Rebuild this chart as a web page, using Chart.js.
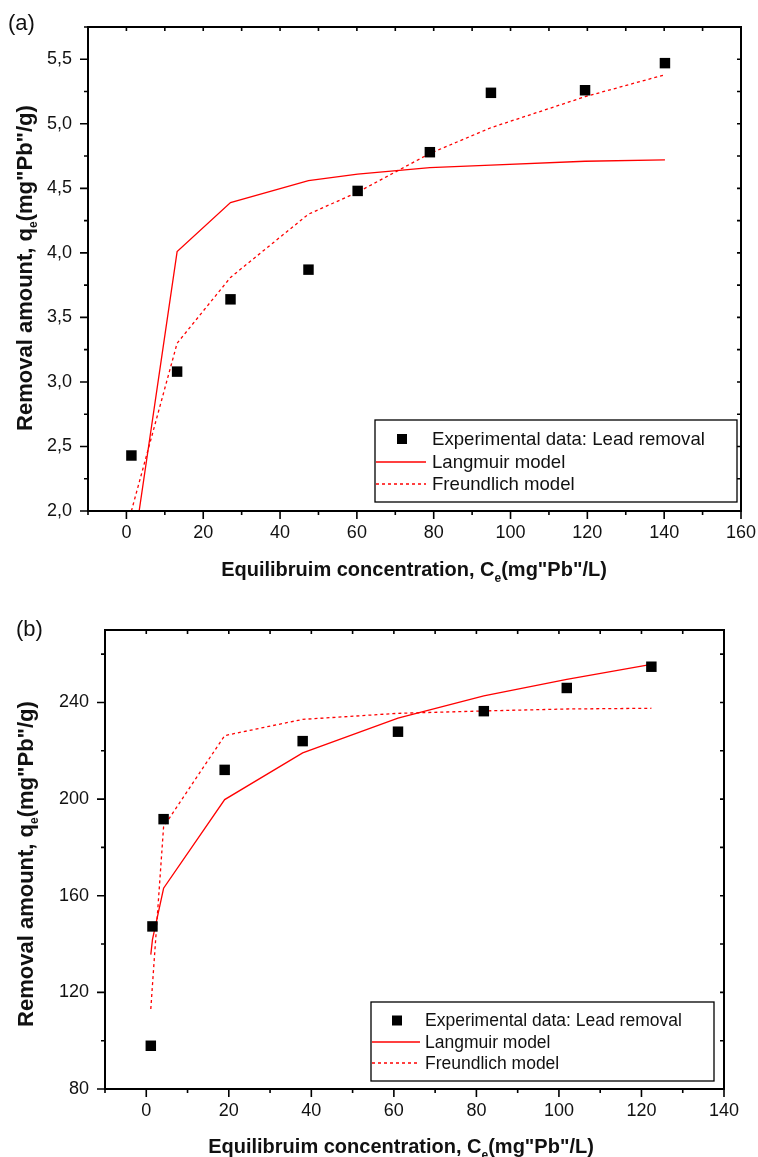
<!DOCTYPE html>
<html>
<head>
<meta charset="utf-8">
<script src="https://cdn.jsdelivr.net/npm/chart.js@4.4.1/dist/chart.umd.min.js"></script>
<style>
  body { margin: 0; background: #fff; }
  #contenedor { position: relative; width: 758px; height: 1157px; }
  canvas { position: absolute; left: 0; }
</style>
</head>
<body>
<div id="contenedor">
  <canvas id="graficoA" width="758" height="590" style="top:0"></canvas>
  <canvas id="graficoB" width="758" height="567" style="top:590px"></canvas>
</div>
<script>
// --- Datos (a) ---
const ceA = [1.3, 13.2, 27.1, 47.4, 60.2, 79.0, 94.9, 119.4, 140.2];
const qeA = [2.43, 3.08, 3.64, 3.87, 4.48, 4.78, 5.24, 5.26, 5.47];
const langmuirA = [1.59, 4.01, 4.39, 4.56, 4.61, 4.66, 4.68, 4.71, 4.72];
const freundlichA = [2.0, 3.30, 3.81, 4.30, 4.47, 4.77, 4.97, 5.21, 5.38];
const xTicksA = [0, 20, 40, 60, 80, 100, 120, 140, 160];
const yTicksA = [2.0, 2.5, 3.0, 3.5, 4.0, 4.5, 5.0, 5.5];

// --- Datos (b) ---
const ceB = [1.1, 1.5, 4.2, 19.0, 37.9, 61.0, 81.8, 101.9, 122.4];
const qeB = [97.9, 147.3, 191.7, 212.1, 224.0, 227.9, 236.4, 246.0, 254.8];
const langmuirB = [135.6, 141.8, 163.1, 199.8, 219.1, 233.5, 242.7, 249.6, 255.8];
const freundlichB = [113.1, 123.0, 188.6, 226.3, 233.0, 235.5, 236.5, 237.3, 237.6];
const xTicksB = [0, 20, 40, 60, 80, 100, 120, 140];
const yTicksB = [80, 120, 160, 200, 240];

const etiquetas = ["Experimental data: Lead removal", "Langmuir model", "Freundlich model"];

const FUENTE = "'Liberation Sans', Arial, sans-serif";

function puntos(xs, ys) {
    return xs.map((x, i) => ({ x: x, y: ys[i] }));
}

function textoConSubindice(ctx, partes, x, y, tam, subTam, bajada) {
    // partes: [texto, esSubindice]
    let ancho = 0;
    partes.forEach(p => {
        ctx.font = `bold ${p[1] ? subTam : tam}px ${FUENTE}`;
        ancho += ctx.measureText(p[0]).width;
    });
    let cx = x - ancho / 2;
    partes.forEach(p => {
        ctx.font = `bold ${p[1] ? subTam : tam}px ${FUENTE}`;
        ctx.fillText(p[0], cx, p[1] ? y + bajada : y);
        cx += ctx.measureText(p[0]).width;
    });
}

const marcoPlugin = {
    id: "marco",
    afterDraw(chart, args, cfg) {
        const { ctx, chartArea: a, scales: { x, y } } = chart;
        ctx.save();
        ctx.strokeStyle = "#000";
        ctx.fillStyle = "#000";

        // ticks
        ctx.lineWidth = 1.6;
        ctx.beginPath();
        for (let v = x.min; v <= x.max + 1e-9; v += cfg.xMenor) {
            const px = x.getPixelForValue(v);
            const mayor = cfg.xTicks.some(t => Math.abs(t - v) < 1e-6);
            ctx.moveTo(px, a.bottom);
            ctx.lineTo(px, a.bottom + (mayor ? 8 : 4));
            ctx.moveTo(px, a.top);
            ctx.lineTo(px, a.top + 4);
        }
        for (let v = y.min; v <= y.max + 1e-9; v += cfg.yMenor) {
            const py = y.getPixelForValue(v);
            const mayor = cfg.yTicks.some(t => Math.abs(t - v) < 1e-6);
            ctx.moveTo(a.left, py);
            ctx.lineTo(a.left - (mayor ? 8 : 4), py);
            ctx.moveTo(a.right, py);
            ctx.lineTo(a.right - 4, py);
        }
        ctx.stroke();

        // marco
        ctx.lineWidth = 2;
        ctx.strokeRect(a.left, a.top, a.right - a.left, a.bottom - a.top);

        // leyenda
        const L = cfg.leyenda;
        ctx.fillStyle = "#fff";
        ctx.fillRect(L.x, L.y, L.w, L.h);
        ctx.lineWidth = 1.3;
        ctx.strokeStyle = "#000";
        ctx.strokeRect(L.x, L.y, L.w, L.h);
        ctx.font = `${L.tam}px ${FUENTE}`;
        ctx.textBaseline = "middle";
        chart.data.datasets.forEach((ds, i) => {
            const fy = L.y + L.filas[i];
            if (ds.showLine) {
                ctx.save();
                ctx.strokeStyle = ds.borderColor;
                ctx.lineWidth = ds.borderWidth;
                ctx.setLineDash(ds.borderDash || []);
                ctx.beginPath();
                ctx.moveTo(L.x + 1, fy);
                ctx.lineTo(L.x + L.linea, fy);
                ctx.stroke();
                ctx.restore();
            } else {
                ctx.fillStyle = "#000";
                ctx.fillRect(L.x + L.marca - 5, fy - 5, 10, 10);
            }
            ctx.fillStyle = "#111";
            ctx.fillText(ds.label, L.x + L.texto, fy + 1);
        });

        // titulos
        ctx.fillStyle = "#111";
        ctx.textBaseline = "alphabetic";
        ctx.textAlign = "left";
        textoConSubindice(ctx, [["Equilibruim concentration, C", false], ["e", true], ["(mg\"Pb\"/L)", false]],
            cfg.tituloX.x, cfg.tituloX.y, 20, 12, 6);
        ctx.save();
        ctx.translate(cfg.tituloY.x, cfg.tituloY.y);
        ctx.rotate(-Math.PI / 2);
        textoConSubindice(ctx, [["Removal amount, q", false], ["e", true], ["(mg\"Pb\"/g)", false]],
            0, 0, 22, 12, 5);
        ctx.restore();

        ctx.font = `22px ${FUENTE}`;
        ctx.fillText(cfg.panel.texto, cfg.panel.x, cfg.panel.y);
        ctx.restore();
    }
};

function sinRelleno(s) {
    s.paddingLeft = 0;
    s.paddingRight = 0;
    s.paddingTop = 0;
    s.paddingBottom = 0;
}

function crearGrafico(canvas, d) {
    return new Chart(canvas, {
        type: "scatter",
        data: {
            datasets: [{
                label: etiquetas[0],
                data: puntos(d.ce, d.qe),
                showLine: false,
                pointStyle: "rect",
                pointRadius: 7.4,
                pointHoverRadius: 7.4,
                pointBorderWidth: 0,
                backgroundColor: "#000",
                borderColor: "#000"
            }, {
                label: etiquetas[1],
                data: puntos(d.ce, d.lang),
                showLine: true,
                borderColor: "#ff0000",
                borderWidth: 1.3,
                pointRadius: 0,
                tension: 0
            }, {
                label: etiquetas[2],
                data: puntos(d.ce, d.freu),
                showLine: true,
                borderColor: "#ff0000",
                borderWidth: 1.3,
                borderDash: [3, 3],
                pointRadius: 0,
                tension: 0
            }]
        },
        options: {
            responsive: false,
            animation: false,
            devicePixelRatio: 1,
            layout: { padding: d.padding },
            plugins: {
                legend: { display: false },
                tooltip: { enabled: false },
                marco: d.marco
            },
            scales: {
                x: {
                    type: "linear",
                    min: d.xMin, max: d.xMax,
                    afterBuildTicks: s => { s.ticks = d.xTicks.map(v => ({ value: v })); },
                    afterFit: s => { s.height = d.altoX; sinRelleno(s); },
                    grid: { display: true, drawOnChartArea: false, drawTicks: false },
                    border: { display: false },
                    ticks: {
                        autoSkip: false, maxRotation: 0, padding: 11,
                        color: "#111",
                        font: { family: FUENTE, size: 18 },
                        callback: v => String(v)
                    }
                },
                y: {
                    type: "linear",
                    min: d.yMin, max: d.yMax,
                    afterBuildTicks: s => { s.ticks = d.yTicks.map(v => ({ value: v })); },
                    afterFit: s => { s.width = d.anchoY; sinRelleno(s); },
                    grid: { display: true, drawOnChartArea: false, drawTicks: false },
                    border: { display: false },
                    ticks: {
                        autoSkip: false, padding: 16,
                        color: "#111",
                        font: { family: FUENTE, size: 18 },
                        callback: d.formatoY
                    }
                }
            }
        },
        plugins: [marcoPlugin]
    });
}

crearGrafico(document.getElementById("graficoA"), {
    ce: ceA, qe: qeA, lang: langmuirA, freu: freundlichA,
    xMin: -10, xMax: 160, yMin: 2.0, yMax: 5.75,
    xTicks: xTicksA, yTicks: yTicksA,
    padding: { top: 27, right: 17, left: 0, bottom: 0 },
    anchoY: 88, altoX: 79,
    formatoY: v => v.toFixed(1).replace(".", ","),
    marco: {
        xTicks: xTicksA, yTicks: yTicksA, xMenor: 10, yMenor: 0.25,
        leyenda: { x: 375, y: 420, w: 362, h: 82, tam: 18.6, filas: [19, 42, 64], marca: 27, linea: 51, texto: 57 },
        tituloX: { x: 414, y: 576 },
        tituloY: { x: 32, y: 268 },
        panel: { texto: "(a)", x: 8, y: 30 }
    }
});

crearGrafico(document.getElementById("graficoB"), {
    ce: ceB, qe: qeB, lang: langmuirB, freu: freundlichB,
    xMin: -10, xMax: 140, yMin: 80, yMax: 270,
    xTicks: xTicksB, yTicks: yTicksB,
    padding: { top: 40, right: 34, left: 0, bottom: 0 },
    anchoY: 105, altoX: 68,
    formatoY: v => String(v),
    marco: {
        xTicks: xTicksB, yTicks: yTicksB, xMenor: 10, yMenor: 20,
        leyenda: { x: 371, y: 412, w: 343, h: 79, tam: 17.5, filas: [18.5, 40, 61], marca: 26, linea: 49, texto: 54 },
        tituloX: { x: 401, y: 563 },
        tituloY: { x: 33, y: 274 },
        panel: { texto: "(b)", x: 16, y: 46 }
    }
});
</script>
</body>
</html>
